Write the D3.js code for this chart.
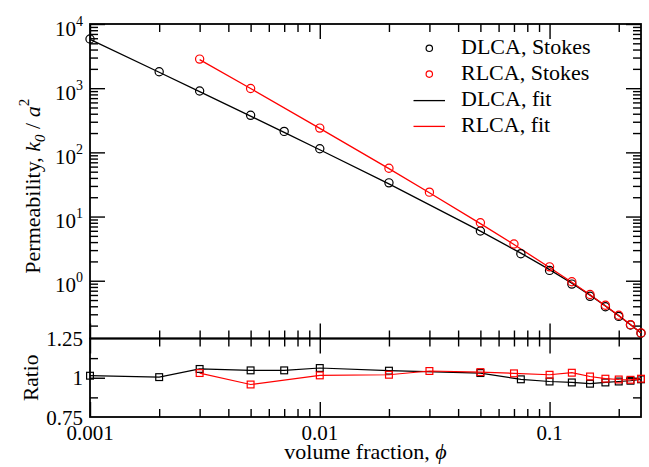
<!DOCTYPE html>
<html>
<head>
<meta charset="utf-8">
<script src="https://cdn.jsdelivr.net/npm/d3@7"></script>
<style>
  html, body { margin: 0; padding: 0; background: #fff; }
  svg { display: block; }
  text { font-family: "Liberation Serif", "Times New Roman", serif; fill: #000; }
</style>
</head>
<body>
<svg id="chart" width="649" height="467"></svg>
<script>
// Volume fractions and permeabilities (k0 / a^2)
const phiDLCA = [0.001, 0.002, 0.003, 0.005, 0.007, 0.01, 0.02, 0.05, 0.075, 0.1, 0.125, 0.15, 0.175, 0.2, 0.225, 0.25];
const kStokesDLCA = [5830, 1800, 905, 378, 212, 114, 33.5, 5.95, 2.64, 1.45, 0.886, 0.572, 0.394, 0.278, 0.204, 0.152];
const kFitDLCA = [5750, 1770, 885, 367, 205, 110, 32.3, 5.93, 2.69, 1.49, 0.914, 0.596, 0.405, 0.285, 0.207, 0.153];
const ratioDLCA = [1.013, 1.004, 1.056, 1.047, 1.047, 1.062, 1.045, 1.03, 0.99, 0.976, 0.97, 0.962, 0.97, 0.976, 0.981, 0.99];

const phiRLCA = [0.003, 0.005, 0.01, 0.02, 0.03, 0.05, 0.07, 0.1, 0.125, 0.15, 0.175, 0.2, 0.225, 0.25];
const kStokesRLCA = [2840, 990, 239, 56.5, 24.0, 8.02, 3.73, 1.645, 0.965, 0.611, 0.415, 0.29, 0.207, 0.154];
const kFitRLCA = [2786, 989, 237, 55.7, 23.5, 7.76, 3.66, 1.61, 0.948, 0.605, 0.408, 0.287, 0.208, 0.1545];
const ratioRLCA = [1.03, 0.957, 1.015, 1.019, 1.043, 1.036, 1.028, 1.019, 1.032, 1.008, 0.994, 0.989, 0.987, 0.994];

// Axis ticks
const xMajor = [0.001, 0.01, 0.1];
const xMajorLabels = ["0.001", "0.01", "0.1"];
const xMinor = [0.002, 0.003, 0.004, 0.005, 0.006, 0.007, 0.008, 0.009,
                0.02, 0.03, 0.04, 0.05, 0.06, 0.07, 0.08, 0.09, 0.2];
const yMajorExp = [0, 1, 2, 3, 4];
const ratioMajor = [0.75, 1, 1.25];
const ratioLabels = ["0.75", "1", "1.25"];
const ratioMinor = [0.875, 1.125];

const legendItems = [
  { label: "DLCA, Stokes", color: "#000", kind: "circle" },
  { label: "RLCA, Stokes", color: "#ff0000", kind: "circle" },
  { label: "DLCA, fit", color: "#000", kind: "line" },
  { label: "RLCA, fit", color: "#ff0000", kind: "line" }
];

const svg = d3.select("#chart");
const L = 90, R = 641, T = 24, MID = 338.5, B = 417;
const MAJ = 15, MIN = 8;

const x = d3.scaleLog().domain([0.001, 0.25]).range([L, R]);
const yMain = d3.scaleLog().domain([0.1259, 1e4]).range([MID, T]);
const yRatio = d3.scaleLinear().domain([0.75, 1.25]).range([B, MID]);

// Minor ticks between the decades of the main axis
const yMinor = [];
for (let e = -1; e < 4; e++) {
  for (let m = 2; m <= 9; m++) {
    const v = m * Math.pow(10, e);
    if (v >= yMain.domain()[0] && v <= 1e4) yMinor.push(v);
  }
}
const yMajor = yMajorExp.map(e => Math.pow(10, e));

function tickAxis(axisFn, scale, values, size, transform) {
  const g = svg.append("g").attr("transform", transform)
    .call(axisFn(scale).tickValues(values).tickSize(size).tickSizeOuter(0).tickFormat(""));
  g.select(".domain").remove();
  g.selectAll(".tick line").attr("stroke", "#000").attr("stroke-width", 1.4);
  return g;
}

// Horizontal axes: bottom of each panel (ticks up), top of each panel (ticks down)
[MID, B].forEach(yy => {
  tickAxis(d3.axisBottom, x, xMajor, -MAJ, `translate(0,${yy})`);
  tickAxis(d3.axisBottom, x, xMinor, -MIN, `translate(0,${yy})`);
});
[T, MID].forEach(yy => {
  tickAxis(d3.axisTop, x, xMajor, -MAJ, `translate(0,${yy})`);
  tickAxis(d3.axisTop, x, xMinor, -MIN, `translate(0,${yy})`);
});

// Vertical axes, main panel
tickAxis(d3.axisLeft, yMain, yMajor, -MAJ, `translate(${L},0)`);
tickAxis(d3.axisLeft, yMain, yMinor, -MIN, `translate(${L},0)`);
tickAxis(d3.axisRight, yMain, yMajor, -MAJ, `translate(${R},0)`);
tickAxis(d3.axisRight, yMain, yMinor, -MIN, `translate(${R},0)`);

// Vertical axes, ratio panel
tickAxis(d3.axisLeft, yRatio, [1], -MAJ, `translate(${L},0)`);
tickAxis(d3.axisLeft, yRatio, ratioMinor, -MIN, `translate(${L},0)`);
tickAxis(d3.axisRight, yRatio, [1], -MAJ, `translate(${R},0)`);
tickAxis(d3.axisRight, yRatio, ratioMinor, -MIN, `translate(${R},0)`);

// Panel frames
svg.append("rect").attr("x", L).attr("y", T).attr("width", R - L).attr("height", MID - T)
  .attr("fill", "none").attr("stroke", "#000").attr("stroke-width", 1.8);
svg.append("rect").attr("x", L).attr("y", MID).attr("width", R - L).attr("height", B - MID)
  .attr("fill", "none").attr("stroke", "#000").attr("stroke-width", 1.8);

// Tick labels
const FS = 21;
svg.append("g").selectAll("text").data(xMajor).join("text")
  .attr("x", d => x(d)).attr("y", 440).attr("text-anchor", "middle")
  .attr("font-size", FS).text((d, i) => xMajorLabels[i]);

const yl = svg.append("g").selectAll("text").data(yMajorExp).join("text")
  .attr("x", 83).attr("y", d => yMain(Math.pow(10, d)) + 11.5)
  .attr("text-anchor", "end").attr("font-size", FS);
yl.append("tspan").text("10");
yl.append("tspan").attr("dy", -10).attr("font-size", 14).text(d => d);

svg.append("g").selectAll("text").data(ratioMajor).join("text")
  .attr("x", 83).attr("y", d => yRatio(d) + 7.5).attr("text-anchor", "end")
  .attr("font-size", FS).text((d, i) => ratioLabels[i]);

// Axis titles
const xt = svg.append("text").attr("x", (L + R) / 2).attr("y", 458.5)
  .attr("text-anchor", "middle").attr("font-size", 22);
xt.append("tspan").text("volume fraction, ");
xt.append("tspan").attr("font-style", "italic").text("ϕ");

const ytm = svg.append("text").attr("transform", `translate(39.5,${(T + MID) / 2 + 5}) rotate(-90)`)
  .attr("text-anchor", "middle").attr("font-size", 22);
ytm.append("tspan").text("Permeability, ");
ytm.append("tspan").attr("font-style", "italic").text("k");
ytm.append("tspan").attr("font-style", "italic").attr("font-size", 15).attr("dy", 5).text("0");
ytm.append("tspan").attr("dy", -5).text(" / ");
ytm.append("tspan").attr("font-style", "italic").text("a");
ytm.append("tspan").attr("font-size", 15).attr("dy", -11).text("2");

svg.append("text").attr("transform", `translate(37.5,${(MID + B) / 2}) rotate(-90)`)
  .attr("text-anchor", "middle").attr("font-size", 21.5).text("Ratio");

// Data series
const main = svg.append("g");
const lineMain = d3.line().x(d => x(d[0])).y(d => yMain(d[1]));
const lineRatio = d3.line().x(d => x(d[0])).y(d => yRatio(d[1]));

const series = [
  { phi: phiDLCA, stokes: kStokesDLCA, fit: kFitDLCA, ratio: ratioDLCA, color: "#000" },
  { phi: phiRLCA, stokes: kStokesRLCA, fit: kFitRLCA, ratio: ratioRLCA, color: "#ff0000" }
];

series.forEach(s => {
  main.append("path").datum(d3.zip(s.phi, s.fit)).attr("d", lineMain)
    .attr("fill", "none").attr("stroke", s.color).attr("stroke-width", 1.3);
});
series.forEach(s => {
  main.append("g").selectAll("circle").data(d3.zip(s.phi, s.stokes)).join("circle")
    .attr("cx", d => x(d[0])).attr("cy", d => yMain(d[1])).attr("r", 4.1)
    .attr("fill", "none").attr("stroke", s.color).attr("stroke-width", 1.2);
});

series.forEach(s => {
  const pts = d3.zip(s.phi, s.ratio);
  main.append("path").datum(pts).attr("d", lineRatio)
    .attr("fill", "none").attr("stroke", s.color).attr("stroke-width", 1.2);
  main.append("g").selectAll("rect").data(pts).join("rect")
    .attr("x", d => x(d[0]) - 3.4).attr("y", d => yRatio(d[1]) - 3.4)
    .attr("width", 6.8).attr("height", 6.8)
    .attr("fill", "none").attr("stroke", s.color).attr("stroke-width", 1.2);
});

// Legend
const lg = svg.append("g");
legendItems.forEach((it, i) => {
  const by = 54.3 + i * 25.8;
  if (it.kind === "circle") {
    lg.append("circle").attr("cx", 429.3).attr("cy", by - 6).attr("r", 3.2)
      .attr("fill", "none").attr("stroke", it.color).attr("stroke-width", 1.2);
  } else {
    lg.append("line").attr("x1", 413.5).attr("x2", 445).attr("y1", by - 5.3).attr("y2", by - 5.3)
      .attr("stroke", it.color).attr("stroke-width", 1.3);
  }
  lg.append("text").attr("x", 461).attr("y", by).attr("font-size", 22).text(it.label);
});
</script>
</body>
</html>
